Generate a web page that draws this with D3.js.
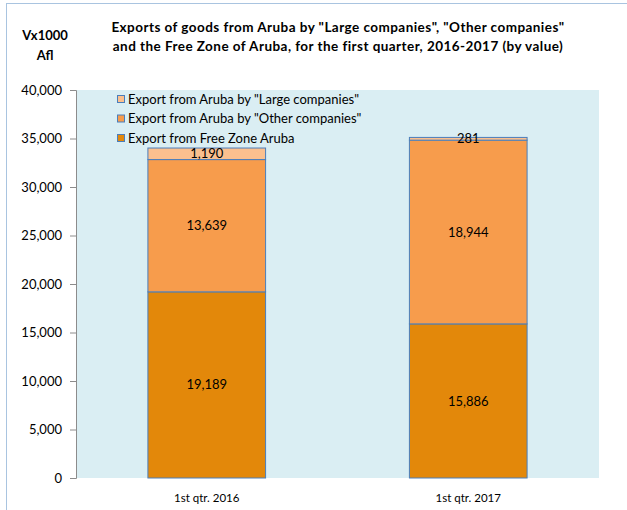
<!DOCTYPE html>
<html>
<head>
<meta charset="utf-8">
<script src="https://cdn.jsdelivr.net/npm/d3@7"></script>
<style>
  body { margin: 0; background: #fff; }
  text { font-family: Lato, "Open Sans", sans-serif; }
</style>
</head>
<body>
<svg id="chart" width="627" height="510"></svg>
<script>
var categories = ["1st qtr. 2016", "1st qtr. 2017"];
var freeZone = [19189, 15886];
var otherCompanies = [13639, 18944];
var largeCompanies = [1190, 281];
var seriesNames = ["Export from Free Zone Aruba", "Export from Aruba by \"Other companies\"", "Export from Aruba by \"Large companies\""];
var yTicks = [0, 5000, 10000, 15000, 20000, 25000, 30000, 35000, 40000];

var colors = ["#e3880a", "#f79c4c", "#fbc08f"];

var svg = d3.select("#chart");
var margin = {left: 76, top: 90, right: 28, bottom: 32};
var width = 627 - margin.left - margin.right;
var height = 510 - margin.top - margin.bottom;

// outer frame
svg.append("rect")
    .attr("x", 6.5).attr("y", 3.5)
    .attr("width", 700).attr("height", 600)
    .attr("fill", "none")
    .attr("stroke", "#a9c4e0");

var g = svg.append("g").attr("transform", "translate(" + margin.left + "," + margin.top + ")");

g.append("rect")
    .attr("width", width).attr("height", height)
    .attr("fill", "#daeef3");

var x = d3.scaleBand().domain(categories).range([0, width]).paddingInner(0.55).paddingOuter(0.275);
var y = d3.scaleLinear().domain([0, 40000]).range([height, 0]);

var rows = categories.map(function (c, i) {
    return {cat: c, fz: freeZone[i], other: otherCompanies[i], large: largeCompanies[i]};
});
var stack = d3.stack().keys(["fz", "other", "large"])(rows);

stack.forEach(function (layer, li) {
    g.selectAll(".bar" + li)
        .data(layer)
        .enter()
        .append("rect")
        .attr("x", function (d) { return x(d.data.cat); })
        .attr("y", function (d) { return y(d[1]); })
        .attr("width", x.bandwidth())
        .attr("height", function (d) { return y(d[0]) - y(d[1]); })
        .attr("fill", colors[li])
        .attr("stroke", "#4a7ebb")
        .attr("stroke-width", 1);
});

// value labels
stack.forEach(function (layer, li) {
    g.selectAll(".lbl" + li)
        .data(layer)
        .enter()
        .append("text")
        .attr("x", function (d) { return x(d.data.cat) + x.bandwidth() / 2; })
        .attr("y", function (d) { return (y(d[0]) + y(d[1])) / 2; })
        .attr("dy", "0.35em")
        .attr("text-anchor", "middle")
        .attr("font-size", "13px")
        .attr("fill", "#000")
        .text(function (d) { return d3.format(",")(d[1] - d[0]); });
});

// y axis
var yAxis = d3.axisLeft(y).tickValues(yTicks).tickFormat(d3.format(",")).tickSize(6).tickPadding(8);
var ya = g.append("g").call(yAxis);
ya.select(".domain").attr("stroke", "#8c8c8c");
ya.selectAll(".tick line").attr("stroke", "#8c8c8c");
ya.selectAll(".tick text").attr("font-size", "13px").attr("fill", "#000")
    .style("font-family", "Lato, 'Open Sans', sans-serif");

// x labels
g.selectAll(".xl")
    .data(categories)
    .enter()
    .append("text")
    .attr("x", function (d) { return x(d) + x.bandwidth() / 2; })
    .attr("y", height + 20)
    .attr("dy", "0.35em")
    .attr("text-anchor", "middle")
    .attr("font-size", "11.5px")
    .text(function (d) { return d; });

// legend (top series first)
var legendOrder = [2, 1, 0];
legendOrder.forEach(function (si, i) {
    var ly = 99 + i * 19.5;
    svg.append("rect")
        .attr("x", 117.5).attr("y", ly - 3.5)
        .attr("width", 7).attr("height", 7)
        .attr("fill", colors[si])
        .attr("stroke", "#4a7ebb");
    svg.append("text")
        .attr("x", 128).attr("y", ly)
        .attr("dy", "0.35em")
        .attr("font-size", "13px")
        .text(seriesNames[si]);
});

// title
var title = ["Exports of goods from Aruba by \"Large companies\", \"Other companies\"",
    "and the Free Zone of Aruba, for the first quarter,  2016-2017 (by value)"];
title.forEach(function (t, i) {
    svg.append("text")
        .attr("x", 338).attr("y", 27 + i * 19)
        .attr("dy", "0.35em")
        .attr("text-anchor", "middle")
        .attr("font-size", "13.5px")
        .attr("font-weight", "bold")
        .attr("letter-spacing", "0.45px")
        .text(t);
});
["Vx1000", "Afl"].forEach(function (t, i) {
    svg.append("text")
        .attr("x", 45).attr("y", 35 + i * 20)
        .attr("dy", "0.35em")
        .attr("text-anchor", "middle")
        .attr("font-size", "13px")
        .attr("font-weight", "bold")
        .text(t);
});
</script>
</body>
</html>
